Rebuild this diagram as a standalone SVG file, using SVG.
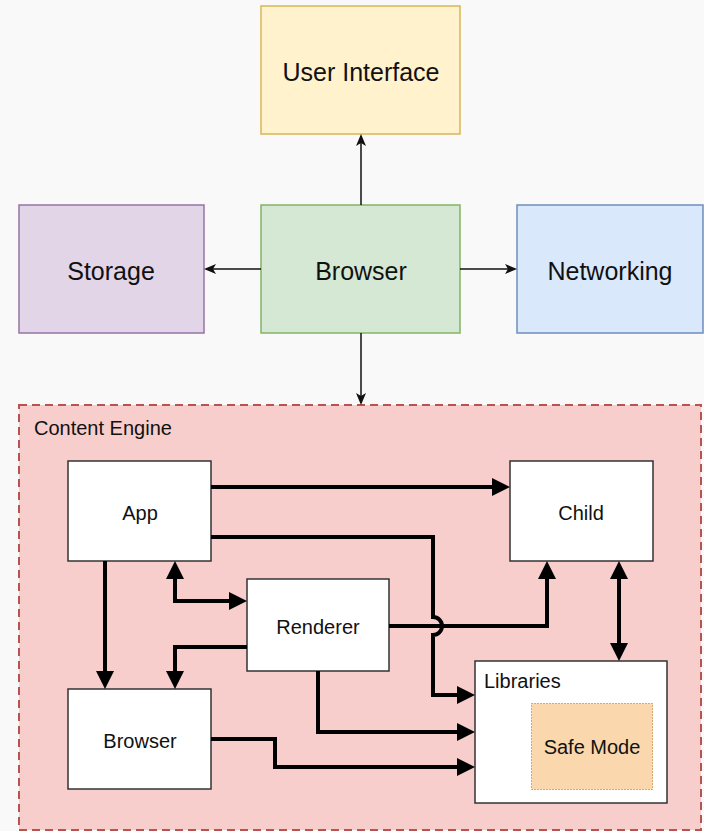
<svg xmlns="http://www.w3.org/2000/svg" width="704" height="831" viewBox="0 0 704 831">
  <style>
    .lbl { font-family: "Liberation Sans", Arial, sans-serif; fill: #111; }
    .big { font-size: 25px; }
    .small { font-size: 20px; }
    .inner { fill: #ffffff; stroke: #333333; stroke-width: 1.5; }
    .thin { fill: none; stroke: #111; stroke-width: 1.5; }
    .thick { fill: none; stroke: #000; stroke-width: 4; }
  </style>
  <defs>
    <marker id="tipThin" viewBox="0 0 12 10" refX="10" refY="5" markerWidth="12" markerHeight="10" markerUnits="userSpaceOnUse" orient="auto">
      <path d="M0,0 L12,5 L0,10 L3,5 z" fill="#111"/>
    </marker>
    <marker id="tipThick" viewBox="0 0 18 18" refX="10" refY="9" markerWidth="18" markerHeight="18" markerUnits="userSpaceOnUse" orient="auto-start-reverse">
      <path d="M0,0 L18,9 L0,18 z" fill="#000"/>
    </marker>
  </defs>

  <rect x="0" y="0" width="704" height="831" fill="#f9f9f9"/>

  <!-- top level components -->
  <g id="user-interface">
    <rect x="261" y="6" width="199" height="128" fill="#fff2cc" stroke="#d6b656" stroke-width="1.5"/>
    <text class="lbl big" x="361" y="81" text-anchor="middle">User Interface</text>
  </g>
  <g id="storage">
    <rect x="19" y="205" width="185" height="128" fill="#e1d5e7" stroke="#9673a6" stroke-width="1.5"/>
    <text class="lbl big" x="111" y="280" text-anchor="middle">Storage</text>
  </g>
  <g id="browser">
    <rect x="261" y="205" width="199" height="128" fill="#d5e8d4" stroke="#82b366" stroke-width="1.5"/>
    <text class="lbl big" x="361" y="280" text-anchor="middle">Browser</text>
  </g>
  <g id="networking">
    <rect x="517" y="205" width="186" height="128" fill="#dae8fc" stroke="#6c8ebf" stroke-width="1.5"/>
    <text class="lbl big" x="610" y="280" text-anchor="middle">Networking</text>
  </g>

  <!-- content engine container -->
  <g id="content-engine">
    <rect x="19" y="405" width="682" height="425" fill="#f8cecc" stroke="#b85450" stroke-width="2" stroke-dasharray="8 5"/>
    <text class="lbl small" x="34" y="435">Content Engine</text>
  </g>

  <g id="app">
    <rect class="inner" x="68" y="461" width="143" height="100"/>
    <text class="lbl small" x="140" y="520" text-anchor="middle">App</text>
  </g>
  <g id="child">
    <rect class="inner" x="510" y="461" width="143" height="100"/>
    <text class="lbl small" x="581" y="520" text-anchor="middle">Child</text>
  </g>
  <g id="renderer">
    <rect class="inner" x="247" y="579" width="142" height="92"/>
    <text class="lbl small" x="318" y="634" text-anchor="middle">Renderer</text>
  </g>
  <g id="browser-process">
    <rect class="inner" x="68" y="689" width="143" height="100"/>
    <text class="lbl small" x="140" y="748" text-anchor="middle">Browser</text>
  </g>
  <g id="libraries">
    <rect class="inner" x="475" y="661" width="192" height="142"/>
    <text class="lbl small" x="484" y="688">Libraries</text>
  </g>
  <g id="safe-mode">
    <rect x="531.5" y="703.5" width="121" height="86" fill="#fad7ac" stroke="#b46504" stroke-width="1" stroke-dasharray="1 2"/>
    <text class="lbl small" x="592" y="754" text-anchor="middle">Safe Mode</text>
  </g>

  <!-- connectors -->
  <g id="connectors">
    <path class="thin" d="M361,205 V136" marker-end="url(#tipThin)"/>
    <path class="thin" d="M261,269 H206" marker-end="url(#tipThin)"/>
    <path class="thin" d="M460,269 H515" marker-end="url(#tipThin)"/>
    <path class="thin" d="M361,333 V403" marker-end="url(#tipThin)"/>

    <path class="thick" d="M211,487 H502" marker-end="url(#tipThick)"/>
    <path class="thick" d="M211,537 H433 V617 A9,9 0 0 1 433,635 V695 H467" marker-end="url(#tipThick)"/>
    <path class="thick" d="M389,626 H547 V569" marker-end="url(#tipThick)"/>
    <path class="thick" d="M619,569 V653" marker-start="url(#tipThick)" marker-end="url(#tipThick)"/>
    <path class="thick" d="M105,561 V681" marker-end="url(#tipThick)"/>
    <path class="thick" d="M175,569 V601 H239" marker-start="url(#tipThick)" marker-end="url(#tipThick)"/>
    <path class="thick" d="M247,647 H175 V681" marker-end="url(#tipThick)"/>
    <path class="thick" d="M318,671 V732 H467" marker-end="url(#tipThick)"/>
    <path class="thick" d="M211,739 H275 V767 H467" marker-end="url(#tipThick)"/>
  </g>
</svg>
